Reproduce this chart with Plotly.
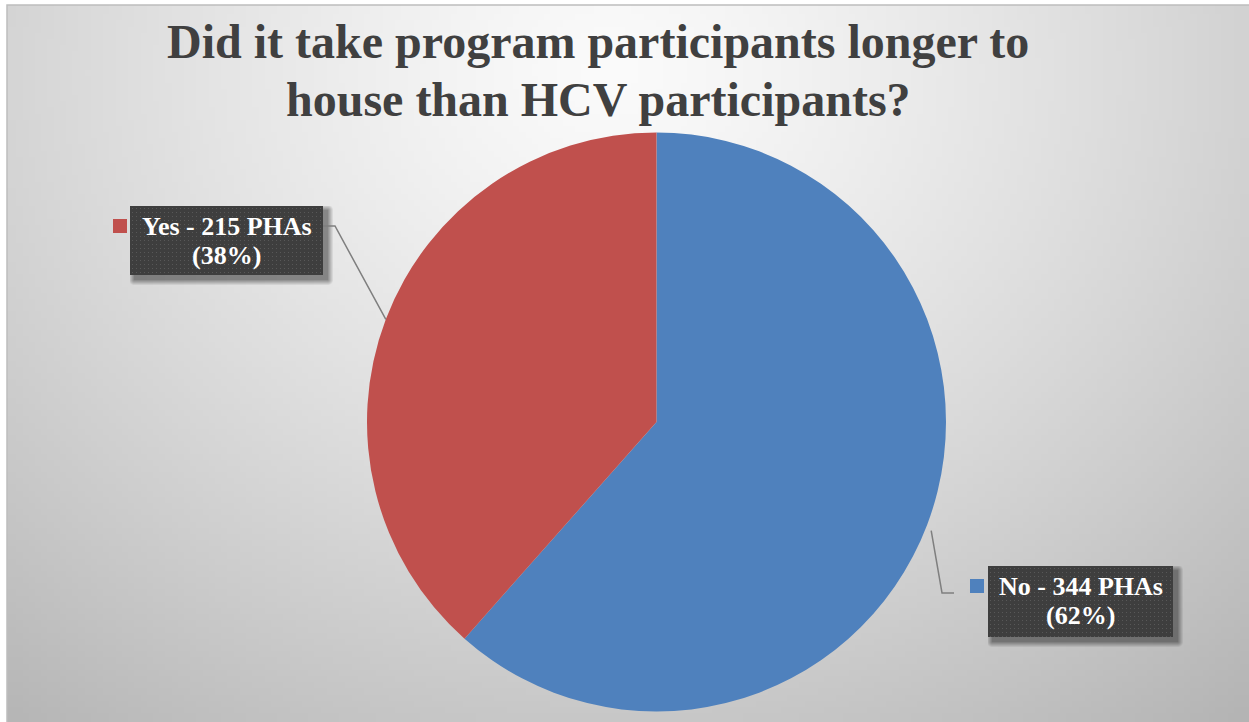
import base64, struct, zlib, math
import plotly.graph_objects as go

# ---- data ----
categories = ["No", "Yes"]
counts = [344, 215]
percents = [62, 38]
colors = ["#4F81BD", "#C0504D"]
title_lines = ["Did it take program participants longer to", "house than HCV participants?"]

W, H = 1249, 722

# ---- PNG helpers (styling only) ----
def png_uri(w, h, fn, rgba=False):
    raw = bytearray()
    for j in range(h):
        raw.append(0)
        for i in range(w):
            raw.extend(fn(i, j))
    def chunk(t, d):
        c = struct.pack(">I", len(d)) + t + d
        return c + struct.pack(">I", zlib.crc32(t + d) & 0xffffffff)
    ctype = 6 if rgba else 2
    png = b"\x89PNG\r\n\x1a\n" + chunk(b"IHDR", struct.pack(">IIBBBBB", w, h, 8, ctype, 0, 0, 0))
    png += chunk(b"IDAT", zlib.compress(bytes(raw), 9)) + chunk(b"IEND", b"")
    return "data:image/png;base64," + base64.b64encode(png).decode()

GW, GH = 200, 116
def grad(i, j):
    x = 7 + i / (GW - 1) * (W - 7)
    y = 5 + j / (GH - 1) * (H - 5)
    d = math.hypot(x - 610, (y - 70) / 0.85)
    t = min(d / 850.0, 1.2)
    v = int(max(0, min(255, 251 - 58 * (t ** 1.25))))
    return (v, v, v)

bg = png_uri(GW, GH, grad)

PAD = 12
def box_png(bw, bh):
    def fn(i, j):
        if i < bw and j < bh:
            if i % 4 == 2 and j % 4 == 2:
                return (88, 88, 88, 255)
            return (62, 62, 62, 255)
        # shadow: box shifted by (4,4)
        sx0, sy0, sx1, sy1 = 4, 4, bw + 4, bh + 4
        dx = max(sx0 - i, 0, i - sx1)
        dy = max(sy0 - j, 0, j - sy1)
        d = math.hypot(dx, dy)
        a = 0.42 * max(0.0, 1 - d / 6.0)
        return (0, 0, 0, int(a * 255))
    return png_uri(bw + PAD, bh + PAD, fn, rgba=True)

# ---- pie geometry ----
dom_x = [367 / W, 946 / W]
dom_y = [1 - 712 / H, 1 - 132 / H]
cx = (dom_x[0] + dom_x[1]) / 2 * W
cy = (1 - (dom_y[0] + dom_y[1]) / 2) * H
R = min((dom_x[1] - dom_x[0]) * W, (dom_y[1] - dom_y[0]) * H) / 2

fig = go.Figure()
fig.add_trace(go.Pie(
    labels=categories, values=counts, sort=False, direction="clockwise", rotation=0,
    marker=dict(colors=colors, line=dict(width=0)),
    textinfo="none", hoverinfo="label+value+percent", showlegend=False,
    domain=dict(x=dom_x, y=dom_y),
))

def px(x):
    return x / W
def py(y):
    return 1 - y / H

shapes = []
annotations = []
images = [dict(source=bg, xref="paper", yref="paper", x=px(7), y=py(5),
               sizex=1 - px(7), sizey=py(5), sizing="stretch", layer="below",
               xanchor="left", yanchor="top")]

# chart border
shapes.append(dict(type="rect", xref="paper", yref="paper", x0=px(7), x1=px(1270), y0=py(740), y1=py(5),
                   line=dict(color="#BDBDBD", width=1.5), fillcolor="rgba(0,0,0,0)", layer="below"))

# label boxes (left, top, width, height) in pixels
boxes = {"Yes": (130, 206, 193, 69), "No": (988, 566, 185, 71)}
total = sum(counts)
cum = 0
mid_angles = {}
for c, n in zip(categories, counts):
    mid_angles[c] = (cum + n / 2) / total * 2 * math.pi  # clockwise from top
    cum += n

for c, n, p, col in zip(categories, counts, percents, colors):
    bl, bt, bw, bh = boxes[c]
    bx = bl + bw / 2
    images.append(dict(source=box_png(bw, bh), xref="paper", yref="paper",
                       x=px(bl), y=py(bt), sizex=(bw + PAD) / W, sizey=(bh + PAD) / H,
                       sizing="stretch", layer="above", xanchor="left", yanchor="top"))
    for line_txt, off in ((f"{c} - {n} PHAs", 20), (f"({p}%)", 49)):
        annotations.append(dict(x=px(bx), y=py(bt + off), xref="paper", yref="paper",
                                text=f"<b>{line_txt}</b>", showarrow=False,
                                xanchor="center", yanchor="middle", align="center",
                                font=dict(family="Liberation Serif", size=26, color="white")))
    # legend key square
    sq_y = bt + 20
    kx = bl - 17 if c == "Yes" else bl - 18
    shapes.append(dict(type="rect", xref="paper", yref="paper",
                       x0=px(kx), x1=px(kx + 14), y0=py(sq_y + 7), y1=py(sq_y - 7),
                       fillcolor=col, line=dict(width=0), layer="above"))
    # leader line from slice midpoint on the rim
    a = mid_angles[c]
    ex = cx + R * math.sin(a)
    ey = cy - R * math.cos(a)
    if c == "Yes":
        hx0 = bl + bw
        hx1 = hx0 + 12
        path = f"M {px(ex)} {py(ey)} L {px(hx1)} {py(sq_y)} L {px(hx0)} {py(sq_y)}"
    else:
        hx1 = kx - 16
        hx0 = hx1 - 12
        path = f"M {px(ex + 4)} {py(ey + 6)} L {px(hx0)} {py(sq_y + 7)} L {px(hx1)} {py(sq_y + 7)}"
    shapes.append(dict(type="path", xref="paper", yref="paper", path=path,
                       line=dict(color="#7F7F7F", width=1.5), layer="above"))

# title (two lines)
title_mid_y = [41, 99]
for t, ym in zip(title_lines, title_mid_y):
    annotations.append(dict(x=598 / W, y=py(ym), xref="paper", yref="paper",
                            text=f"<b>{t}</b>", showarrow=False,
                            xanchor="center", yanchor="middle", align="center",
                            font=dict(family="Liberation Serif", size=48, color="#404040")))

fig.update_layout(
    width=W, height=H, margin=dict(l=0, r=0, t=0, b=0),
    paper_bgcolor="white", plot_bgcolor="white",
    images=images, shapes=shapes, annotations=annotations,
)
fig.write_html("out.html", config={"displayModeBar": False},
               post_script="document.body.style.margin='0';document.body.style.overflow='hidden';")
